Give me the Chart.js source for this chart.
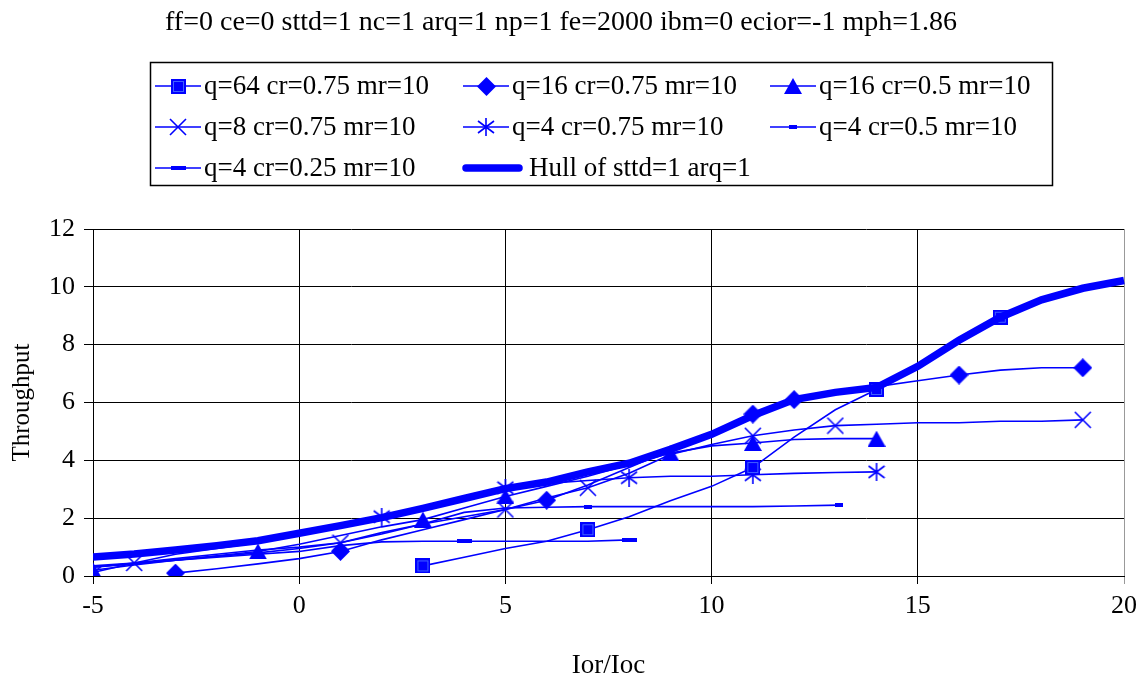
<!DOCTYPE html>
<html>
<head>
<meta charset="utf-8">
<script src="https://cdn.jsdelivr.net/npm/chart.js@4/dist/chart.umd.min.js"></script>
<style>
  body { margin: 0; background: #fff; }
  #wrap { position: relative; width: 1144px; height: 676px; }
</style>
</head>
<body>
<div id="wrap"><canvas id="grafico" width="1144" height="676"></canvas></div>
<script>
// ---- data ----
var chartTitle = 'ff=0 ce=0 sttd=1 nc=1 arq=1 np=1 fe=2000 ibm=0 ecior=-1 mph=1.86';
var xTitle = 'Ior/Ioc';
var yTitle = 'Throughput';
var xTicks = [-5, 0, 5, 10, 15, 20];
var yTicks = [0, 2, 4, 6, 8, 10, 12];

var q64X = [3, 4, 5, 6, 7, 8, 9, 10, 11, 12, 13, 14, 15, 16, 17];
var q64Y = [0.35, 0.65, 0.95, 1.2, 1.6, 2.05, 2.6, 3.1, 3.75, 4.8, 5.75, 6.45, 7.25, 8.2, 8.95];
var q64Marks = [3, 7, 11, 14, 17];

var q16aX = [-3, -2, -1, 0, 1, 2, 3, 4, 5, 6, 7, 8, 9, 10, 11, 12, 13, 14, 15, 16, 17, 18, 19];
var q16aY = [0.1, 0.25, 0.42, 0.6, 0.85, 1.25, 1.6, 1.95, 2.3, 2.62, 3.15, 3.75, 4.35, 4.95, 5.6, 6.1, 6.35, 6.55, 6.75, 6.95, 7.12, 7.2, 7.2];
var q16aMarks = [-3, 1, 6, 11, 12, 16, 19];

var q16bX = [-5, -4, -3, -2, -1, 0, 1, 2, 3, 4, 5, 6, 7, 8, 9, 10, 11, 12, 13, 14];
var q16bY = [0.2, 0.38, 0.55, 0.7, 0.85, 1.1, 1.4, 1.7, 1.95, 2.35, 2.75, 3.1, 3.45, 3.85, 4.25, 4.5, 4.6, 4.72, 4.75, 4.75];
var q16bMarks = [-5, -1, 3, 5, 9, 11, 14];

var q8X = [-5, -4, -3, -2, -1, 0, 1, 2, 3, 4, 5, 6, 7, 8, 9, 10, 11, 12, 13, 14, 15, 16, 17, 18, 19];
var q8Y = [0.3, 0.45, 0.6, 0.75, 0.9, 1.0, 1.15, 1.5, 1.8, 2.05, 2.3, 2.7, 3.05, 3.55, 4.2, 4.55, 4.85, 5.05, 5.2, 5.25, 5.3, 5.3, 5.35, 5.35, 5.4];
var q8Marks = [-4, 1, 5, 7, 11, 13, 19];

var q4aX = [-5, -4, -3, -2, -1, 0, 1, 2, 3, 4, 5, 6, 7, 8, 9, 10, 11, 12, 13, 14];
var q4aY = [0.12, 0.45, 0.75, 0.95, 1.15, 1.45, 1.75, 2.05, 2.35, 2.7, 3.05, 3.2, 3.3, 3.4, 3.45, 3.45, 3.5, 3.55, 3.58, 3.6];
var q4aMarks = [-5, 2, 5, 8, 11, 14];

var q4bX = [-5, -4, -3, -2, -1, 0, 1, 2, 3, 4, 5, 6, 7, 8, 9, 10, 11, 12, 13.1];
var q4bY = [0.3, 0.42, 0.55, 0.68, 0.8, 0.95, 1.15, 1.45, 1.8, 2.2, 2.35, 2.38, 2.4, 2.4, 2.4, 2.4, 2.4, 2.42, 2.45];
var q4bMarks = [7, 13.1];

var q4cX = [-5, -4, -3, -2, -1, 0, 1, 2, 3, 4, 5, 6, 7, 8, 8.1];
var q4cY = [0.35, 0.45, 0.55, 0.65, 0.75, 0.85, 1.05, 1.18, 1.2, 1.2, 1.2, 1.2, 1.2, 1.25, 1.25];
var q4cMarks = [4, 8];

var hullX = [-5, -4, -3, -2, -1, 0, 1, 2, 3, 4, 5, 6, 7, 8, 9, 10, 11, 12, 13, 14, 15, 16, 17, 18, 19, 20, 20.3];
var hullY = [0.66, 0.76, 0.9, 1.05, 1.22, 1.48, 1.74, 2.02, 2.34, 2.68, 3.02, 3.25, 3.6, 3.9, 4.38, 4.9, 5.55, 6.1, 6.35, 6.52, 7.25, 8.15, 8.95, 9.55, 9.95, 10.22, 10.32];

var names = ['q=64 cr=0.75 mr=10', 'q=16 cr=0.75 mr=10', 'q=16 cr=0.5 mr=10',
             'q=8 cr=0.75 mr=10', 'q=4 cr=0.75 mr=10', 'q=4 cr=0.5 mr=10',
             'q=4 cr=0.25 mr=10', 'Hull of sttd=1 arq=1'];

var AZUL = '#0000ff';
var FONTE = 'Liberation Serif, Times New Roman, serif';

// ---- marker images ----
function marcador(w, h, fn) {
    var c = document.createElement('canvas');
    c.width = w; c.height = h;
    var g = c.getContext('2d');
    g.fillStyle = AZUL; g.strokeStyle = AZUL; g.lineWidth = 1.6;
    fn(g, w, h);
    return c;
}
var mQuad = marcador(15, 15, function(g){ g.fillRect(0, 0, 15, 15); g.strokeStyle = '#4060ff'; g.lineWidth = 1; g.strokeRect(2.5, 2.5, 10, 10); });
var mLos = marcador(19, 19, function(g){ g.beginPath(); g.moveTo(9.5,0); g.lineTo(19,9.5); g.lineTo(9.5,19); g.lineTo(0,9.5); g.closePath(); g.fill(); });
var mTri = marcador(18, 16, function(g){ g.beginPath(); g.moveTo(9,0); g.lineTo(18,16); g.lineTo(0,16); g.closePath(); g.fill(); });
var mX = marcador(18, 18, function(g){ g.beginPath(); g.moveTo(1,1); g.lineTo(17,17); g.moveTo(17,1); g.lineTo(1,17); g.stroke(); });
var mAst = marcador(18, 18, function(g){ g.beginPath(); g.moveTo(9,0); g.lineTo(9,18); g.moveTo(1,3); g.lineTo(17,15); g.moveTo(17,3); g.lineTo(1,15); g.stroke(); });
var mTraco = marcador(8, 4, function(g){ g.fillRect(0, 0, 8, 4); });
var mTraco2 = marcador(15, 4, function(g){ g.fillRect(0, 0, 15, 4); });

function pontos(xs, ys) {
    var r = [];
    for (var i = 0; i < xs.length; i++) r.push({x: xs[i], y: ys[i]});
    return r;
}
function raios(xs, marks) {
    var r = [];
    for (var i = 0; i < xs.length; i++) r.push(marks.indexOf(xs[i]) >= 0 ? 5 : 0);
    return r;
}
function serie(nome, xs, ys, marks, img) {
    return {
        label: nome,
        data: pontos(xs, ys),
        showLine: true,
        borderColor: AZUL,
        backgroundColor: AZUL,
        borderWidth: 1.6,
        pointStyle: img,
        pointRadius: raios(xs, marks),
        tension: 0,
        marcador: img,
        order: 1
    };
}

var ds = [
    serie(names[0], q64X, q64Y, q64Marks, mQuad),
    serie(names[1], q16aX, q16aY, q16aMarks, mLos),
    serie(names[2], q16bX, q16bY, q16bMarks, mTri),
    serie(names[3], q8X, q8Y, q8Marks, mX),
    serie(names[4], q4aX, q4aY, q4aMarks, mAst),
    serie(names[5], q4bX, q4bY, q4bMarks, mTraco),
    serie(names[6], q4cX, q4cY, q4cMarks, mTraco2),
    {
        label: names[7],
        data: pontos(hullX, hullY),
        showLine: true,
        borderColor: AZUL,
        borderWidth: 7.5,
        pointRadius: 0,
        tension: 0,
        order: 0,
        clip: {left: 0, top: 0, right: 10, bottom: 0}
    }
];

// legend + title drawn on the canvas
var legendaPlugin = {
    id: 'legendaExcel',
    afterDraw: function(chart) {
        var ctx = chart.ctx;
        ctx.save();
        ctx.fillStyle = '#000';
        ctx.font = '28px ' + FONTE;
        ctx.textAlign = 'center';
        ctx.textBaseline = 'middle';
        ctx.fillText(chartTitle, 561, 23);

        ctx.strokeStyle = '#000';
        ctx.lineWidth = 1.5;
        ctx.strokeRect(150.5, 62.5, 902, 123);

        var colX = [155, 463, 770];
        var rowY = [86, 127, 168];
        ctx.font = '27px ' + FONTE;
        ctx.textAlign = 'left';
        for (var k = 0; k < names.length; k++) {
            var cx = colX[k % 3], cy = rowY[Math.floor(k / 3)];
            var d = chart.data.datasets[k];
            ctx.strokeStyle = AZUL;
            if (k === 7) {
                ctx.lineWidth = 7.5;
                ctx.lineCap = 'round';
                ctx.beginPath(); ctx.moveTo(cx + 3, cy); ctx.lineTo(cx + 56, cy); ctx.stroke();
                ctx.lineCap = 'butt';
                ctx.fillStyle = '#000';
                ctx.fillText(names[k], cx + 66, cy + 1);
                continue;
            }
            ctx.lineWidth = 1.6;
            ctx.beginPath(); ctx.moveTo(cx, cy); ctx.lineTo(cx + 46, cy); ctx.stroke();
            var im = d.marcador;
            ctx.drawImage(im, Math.round(cx + 23 - im.width / 2), Math.round(cy - im.height / 2));
            ctx.fillStyle = '#000';
            ctx.fillText(names[k], cx + 49, cy + 1);
        }
        ctx.restore();
    }
};

var grafico = new Chart('grafico', {
    type: 'scatter',
    data: { datasets: ds },
    options: {
        responsive: false,
        animation: false,
        events: [],
        layout: { padding: { top: 229, right: 18, left: 0, bottom: 0 } },
        plugins: { legend: { display: false }, title: { display: false }, tooltip: { enabled: false } },
        scales: {
            x: {
                type: 'linear', min: -5, max: 20,
                afterBuildTicks: function(s){ s.ticks = xTicks.map(function(v){ return {value: v}; }); },
                afterFit: function(s){ s.height = 100; },
                ticks: { color: '#000', font: { family: FONTE, size: 26 }, padding: 7, maxRotation: 0 },
                grid: { color: function(c){ return c.tick && c.tick.value === 20 ? '#999' : '#000'; }, lineWidth: 1, tickLength: 8 },
                border: { color: '#000', width: 1 },
                title: { display: true, text: xTitle, color: '#000', font: { family: FONTE, size: 27, lineHeight: 0.75 }, padding: { top: 0, bottom: 0 } }
            },
            y: {
                min: 0, max: 12,
                afterBuildTicks: function(s){ s.ticks = yTicks.map(function(v){ return {value: v}; }); },
                afterFit: function(s){ s.width = 93; },
                ticks: { color: '#000', font: { family: FONTE, size: 26 }, padding: 9 },
                grid: { color: '#000', lineWidth: 1, tickLength: 9 },
                border: { color: '#000', width: 1 },
                title: { display: true, text: yTitle, color: '#000', font: { family: FONTE, size: 25 }, padding: { top: 7, bottom: 0 } }
            }
        }
    },
    plugins: [legendaPlugin]
});
</script>
</body>
</html>
